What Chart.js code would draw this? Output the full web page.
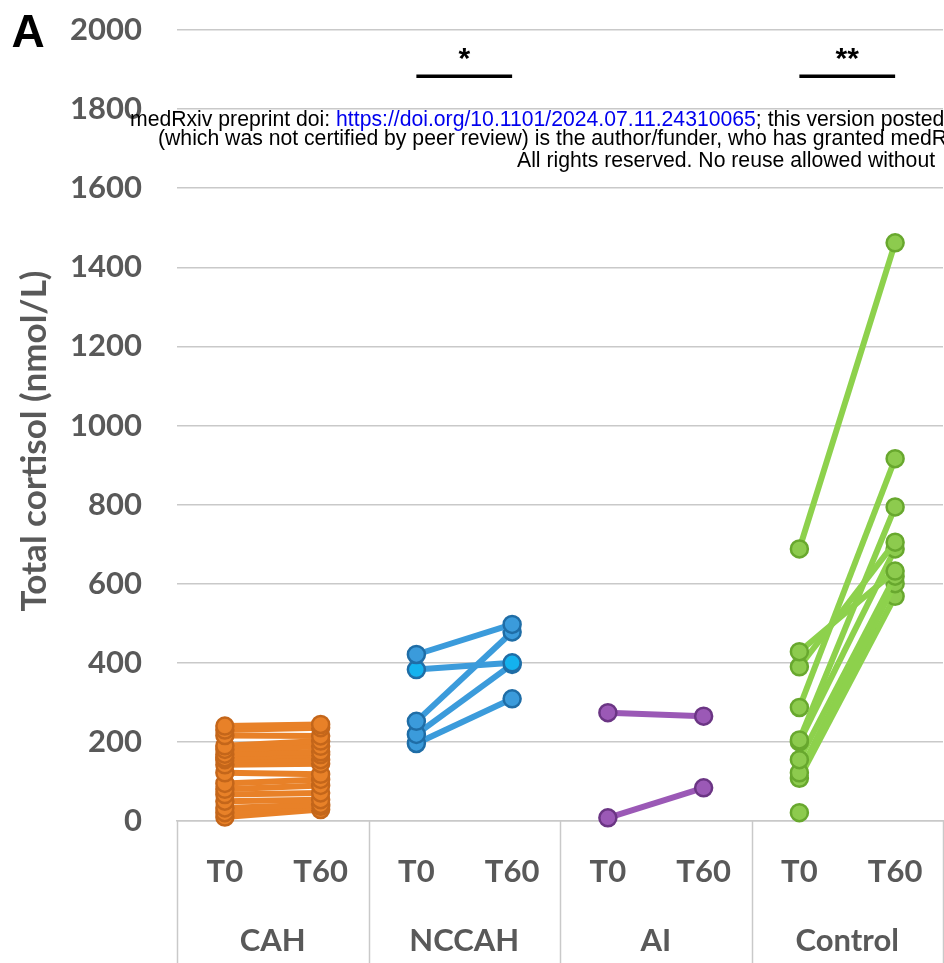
<!DOCTYPE html>
<html>
<head>
<meta charset="utf-8">
<title>Total cortisol</title>
<script src="https://cdn.jsdelivr.net/npm/chart.js@4.4.1/dist/chart.umd.min.js"></script>
<style>
  html, body { margin: 0; padding: 0; background: #fff; }
  #wrap { width: 944px; height: 963px; position: relative; overflow: hidden; }
</style>
</head>
<body>
<div id="wrap"><canvas id="cortisolChart"></canvas></div>
<script>
var axisColor = '#595959';
var gridColor = '#c9c9c9';

var groups = ['CAH', 'NCCAH', 'AI', 'Control'];
var timeLabels = ['T0', 'T60', 'T0', 'T60', 'T0', 'T60', 'T0', 'T60'];
var yTicks = [0, 200, 400, 600, 800, 1000, 1200, 1400, 1600, 1800, 2000];

// paired values, one entry per subject (nmol/L)
var cahT0  = [240, 230, 216, 190, 181, 169, 160, 155, 142, 122, 95, 80, 67, 50, 33, 21, 10];
var cahT60 = [244, 236, 215, 202, 189, 175, 168, 155, 145, 118, 105, 90, 71, 54, 42, 37, 29];

var nccahT0  = [421, 383, 252, 219, 196];
var nccahT60 = [497, 400, 478, 396, 309];

var aiT0  = [274, 8];
var aiT60 = [265, 84];

var controlT0  = [688, 428, 390, 287, 205, 200, 155, 122, 108, 21];
var controlT60 = [1462, 632, 705, 916, 794, 688, 619, 600, 568, null];

// significance bars: group index and label
var sigGroups = [1, 3];
var sigLabels = ['*', '**'];
var sigLevel = 1883;

var styles = [
    { line: '#e88128', fill: '#e88128', border: '#c4661a' },
    { line: '#3b9bdb', fill: '#3b9bdb', border: '#1f6da6' },
    { line: '#9b59b6', fill: '#9b59b6', border: '#6b3584' },
    { line: '#8dd14c', fill: '#8dcb4e', border: '#68a82e' }
];

function pairDatasets(groupIndex, t0, t60) {
    var st = styles[groupIndex];
    return t0.map(function(v, i) {
        var data = timeLabels.map(function() { return null; });
        data[groupIndex * 2] = v;
        data[groupIndex * 2 + 1] = t60[i];
        return {
            data: data,
            borderColor: st.line,
            borderWidth: 6,
            pointRadius: 8.5,
            pointBorderWidth: 2.5,
            pointBackgroundColor: st.fill,
            pointBorderColor: st.border,
            spanGaps: false,
            clip: false
        };
    });
}

var datasets = [].concat(
    pairDatasets(0, cahT0, cahT60),
    pairDatasets(1, nccahT0, nccahT60),
    pairDatasets(2, aiT0, aiT60),
    pairDatasets(3, controlT0, controlT60)
);
// one NCCAH baseline marker is lighter in the original
datasets[cahT0.length + 1].pointBackgroundColor = '#14b2ee';

var extras = {
    id: 'extras',
    afterDraw: function(chart) {
        var ctx = chart.ctx;
        var area = chart.chartArea;
        var x = chart.scales.x;
        var y = chart.scales.y;
        var gw = (area.right - area.left) / groups.length;
        ctx.save();

        // group separators under the axis
        ctx.strokeStyle = gridColor;
        ctx.lineWidth = 1.5;
        for (var i = 0; i <= groups.length; i++) {
            var px = Math.round(area.left + i * gw) + 0.5;
            ctx.beginPath();
            ctx.moveTo(px, area.bottom);
            ctx.lineTo(px, chart.height);
            ctx.stroke();
        }

        // group labels
        ctx.fillStyle = axisColor;
        ctx.font = 'bold 31px Lato';
        ctx.textAlign = 'center';
        ctx.textBaseline = 'middle';
        groups.forEach(function(g, i) {
            ctx.fillText(g, area.left + (i + 0.5) * gw, 941);
        });

        // y axis title
        ctx.save();
        ctx.translate(35, 441);
        ctx.rotate(-Math.PI / 2);
        ctx.font = 'bold 35px Lato';
        ctx.fillText('Total cortisol (nmol/L)', 0, 0);
        ctx.restore();

        // panel letter
        ctx.fillStyle = '#000';
        ctx.font = 'bold 46px "Liberation Sans"';
        ctx.textBaseline = 'alphabetic';
        ctx.fillText('A', 28, 47);

        // significance bars
        var barY = y.getPixelForValue(sigLevel);
        ctx.strokeStyle = '#000';
        ctx.lineWidth = 3.5;
        sigGroups.forEach(function(g, i) {
            var x0 = x.getPixelForValue(g * 2);
            var x1 = x.getPixelForValue(g * 2 + 1);
            ctx.beginPath();
            ctx.moveTo(x0, barY);
            ctx.lineTo(x1, barY);
            ctx.stroke();
            ctx.font = 'bold 30px "Liberation Sans"';
            ctx.fillText(sigLabels[i], (x0 + x1) / 2, barY - 8);
        });

        // preprint watermark
        ctx.font = '21.2px "Liberation Sans"';
        ctx.textAlign = 'left';
        ctx.textBaseline = 'middle';
        var parts = [
            ['medRxiv preprint doi: ', '#000'],
            ['https://doi.org/10.1101/2024.07.11.24310065', '#0000ee'],
            ['; this version posted', '#000']
        ];
        var cx = 130;
        parts.forEach(function(p) {
            ctx.fillStyle = p[1];
            ctx.fillText(p[0], cx, 120);
            cx += ctx.measureText(p[0]).width;
        });
        ctx.fillStyle = '#000';
        ctx.fillText('(which was not certified by peer review) is the author/funder, who has granted medR', 158, 139);
        ctx.fillText('All rights reserved. No reuse allowed without', 517, 161);

        ctx.restore();
    }
};

var ctx = document.getElementById('cortisolChart').getContext('2d');

new Chart(ctx, {
    type: 'line',
    data: {
        labels: timeLabels,
        datasets: datasets
    },
    options: {
        responsive: true,
        maintainAspectRatio: false,
        animation: false,
        layout: { autoPadding: false, padding: { top: 30, right: 1, left: 0, bottom: 0 } },
        plugins: {
            legend: { display: false },
            tooltip: { enabled: false }
        },
        scales: {
            x: {
                offset: true,
                grid: { display: false, drawTicks: false },
                border: { display: true, color: gridColor, width: 1.5 },
                ticks: {
                    color: axisColor,
                    font: { family: 'Lato', weight: 'bold', size: 31 },
                    padding: 32,
                    maxRotation: 0,
                    autoSkip: false
                },
                afterFit: function(scale) {
                    scale.height = 142;
                    scale.paddingLeft = 0;
                    scale.paddingRight = 0;
                }
            },
            y: {
                min: 0,
                max: 2000,
                afterBuildTicks: function(scale) {
                    scale.ticks = yTicks.map(function(v) { return { value: v }; });
                },
                grid: { color: gridColor, lineWidth: 1.5, drawTicks: false },
                border: { display: false },
                ticks: {
                    color: axisColor,
                    font: { family: 'Lato', weight: 'bold', size: 31 },
                    padding: 35,
                    callback: function(value) { return String(value); }
                },
                afterFit: function(scale) {
                    scale.width = 177;
                    scale.paddingTop = 0;
                    scale.paddingBottom = 0;
                }
            }
        }
    },
    plugins: [extras]
});
</script>
</body>
</html>
